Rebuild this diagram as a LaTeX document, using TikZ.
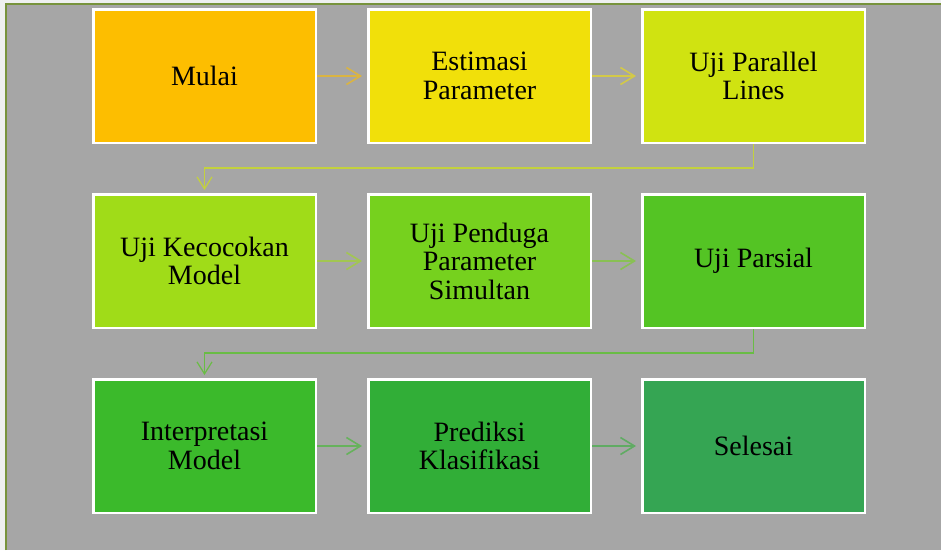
\documentclass[tikz,border=0pt]{standalone}
\usepackage{fontspec}
\newfontfamily\tnrfont{LiberationSerif}[Extension=.ttf, UprightFont=*-Regular]
\usetikzlibrary{arrows.meta}
\definecolor{bggray}{HTML}{A6A6A6}
\definecolor{strip}{HTML}{EEF0F0}
\definecolor{frameg}{HTML}{77933C}
\definecolor{cA}{HTML}{FDBE00}
\definecolor{cB}{HTML}{F1E00A}
\definecolor{cC}{HTML}{D0E311}
\definecolor{cD}{HTML}{A0DC18}
\definecolor{cE}{HTML}{76D11E}
\definecolor{cF}{HTML}{54C424}
\definecolor{cG}{HTML}{3BBA2B}
\definecolor{cH}{HTML}{31AE37}
\definecolor{cI}{HTML}{35A553}
\tikzset{
  box/.style={draw=white, line width=2.5pt, minimum width=222.5pt, minimum height=133.5pt,
    inner sep=0pt, align=center,
    font=\tnrfont\fontsize{28pt}{28.5pt}\selectfont},
  harrow/.style={line width=1.6pt, shorten >=5pt,
    -{Straight Barb[length=14pt, width=17pt, line width=1.6pt]}},
  varrow/.style={line width=1.2pt, shorten >=3pt,
    -{Straight Barb[length=12pt, width=15pt, line width=1.2pt]}}
}
\begin{document}
\begin{tikzpicture}[x=1pt, y=-1pt]
\useasboundingbox (0,0) rectangle (941,550);
\fill[strip] (0,0) rectangle (941,550);
\fill[bggray] (6,4) rectangle (941,550);
\draw[frameg, line width=2pt] (6,550) -- (6,4) -- (941,4);

\node[box, fill=cA] (b1) at (204.5,76) {Mulai};
\node[box, fill=cB] (b2) at (479.5,76) {Estimasi\\Parameter};
\node[box, fill=cC] (b3) at (753.5,76) {Uji Parallel\\Lines};
\node[box, fill=cD] (b4) at (204.5,261) {Uji Kecocokan\\Model};
\node[box, fill=cE] (b5) at (479.5,261) {Uji Penduga\\Parameter\\Simultan};
\node[box, fill=cF] (b6) at (753.5,261) {Uji Parsial};
\node[box, fill=cG] (b7) at (204.5,446) {Interpretasi\\Model};
\node[box, fill=cH] (b8) at (479.5,446) {Prediksi\\Klasifikasi};
\node[box, fill=cI] (b9) at (753.5,446) {Selesai};

\draw[harrow, cA!60!bggray] (b1) -- (b2);
\draw[harrow, cB!60!bggray] (b2) -- (b3);
\draw[varrow, cC!70!bggray] (b3.south) -- (b3.south |- 0,168) -- (b4.north |- 0,168) -- (b4.north);
\draw[harrow, cD!60!bggray] (b4) -- (b5);
\draw[harrow, cE!60!bggray] (b5) -- (b6);
\draw[varrow, cF!75!bggray] (b6.south) -- (b6.south |- 0,353) -- (b7.north |- 0,353) -- (b7.north);
\draw[harrow, cG!60!bggray] (b7) -- (b8);
\draw[harrow, cH!60!bggray] (b8) -- (b9);
\end{tikzpicture}
\end{document}
